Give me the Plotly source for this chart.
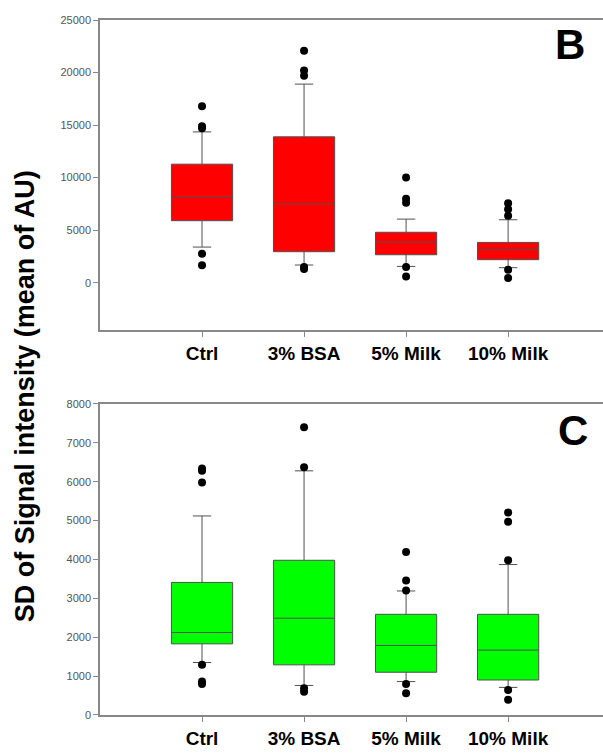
import plotly.graph_objects as go
from plotly.subplots import make_subplots

categories = ["Ctrl", "3% BSA", "5% Milk", "10% Milk"]

# Panel B: mean of AU
b_q1 = [5900, 2950, 2660, 2190]
b_median = [8200, 7500, 3870, 3140]
b_q3 = [11280, 13880, 4800, 3830]
b_lower = [3390, 1680, 1550, 1430]
b_upper = [14350, 18900, 6050, 5990]
b_out_x = ["Ctrl", "Ctrl", "Ctrl", "Ctrl", "Ctrl",
           "3% BSA", "3% BSA", "3% BSA", "3% BSA", "3% BSA",
           "5% Milk", "5% Milk", "5% Milk", "5% Milk", "5% Milk",
           "10% Milk", "10% Milk", "10% Milk", "10% Milk", "10% Milk"]
b_out_y = [16800, 14900, 14700, 2750, 1650,
           22080, 20200, 19700, 1500, 1300,
           10000, 8000, 7600, 1500, 600,
           7570, 7000, 6370, 1240, 440]

# Panel C: SD
c_q1 = [1830, 1290, 1100, 900]
c_median = [2120, 2490, 1790, 1670]
c_q3 = [3410, 3980, 2590, 2590]
c_lower = [1350, 760, 860, 710]
c_upper = [5120, 6280, 3190, 3870]
c_out_x = ["Ctrl", "Ctrl", "Ctrl", "Ctrl", "Ctrl", "Ctrl",
           "3% BSA", "3% BSA", "3% BSA", "3% BSA",
           "5% Milk", "5% Milk", "5% Milk", "5% Milk", "5% Milk",
           "10% Milk", "10% Milk", "10% Milk", "10% Milk", "10% Milk"]
c_out_y = [6340, 6280, 5980, 1290, 860, 800,
           7400, 6370, 690, 600,
           4190, 3460, 3200, 800, 560,
           5210, 4970, 3980, 640, 390]

b_ticks = [0, 5000, 10000, 15000, 20000, 25000]
c_ticks = [0, 1000, 2000, 3000, 4000, 5000, 6000, 7000, 8000]

fig = make_subplots(rows=2, cols=1, vertical_spacing=0.1066)

box_line = dict(color="#505050", width=1)
fig.add_trace(go.Box(x=categories, q1=b_q1, median=b_median, q3=b_q3,
                     lowerfence=b_lower, upperfence=b_upper,
                     fillcolor="#FF0000", line=box_line, width=0.6,
                     whiskerwidth=0.3, boxpoints=False, showlegend=False),
              row=1, col=1)
fig.add_trace(go.Scatter(x=b_out_x, y=b_out_y, mode="markers",
                         marker=dict(color="black", size=8),
                         showlegend=False), row=1, col=1)
fig.add_trace(go.Box(x=categories, q1=c_q1, median=c_median, q3=c_q3,
                     lowerfence=c_lower, upperfence=c_upper,
                     fillcolor="#00FF00", line=box_line, width=0.6,
                     whiskerwidth=0.3, boxpoints=False, showlegend=False),
              row=2, col=1)
fig.add_trace(go.Scatter(x=c_out_x, y=c_out_y, mode="markers",
                         marker=dict(color="black", size=8),
                         showlegend=False), row=2, col=1)

xcommon = dict(type="category", categoryorder="array", categoryarray=categories,
               range=[-1, 3.93], showline=True, linecolor="#888888", linewidth=1.5,
               mirror=True, ticks="outside", ticklen=5, tickcolor="#888888",
               showgrid=False, zeroline=False,
               tickfont=dict(family="Liberation Sans, Arial", size=19, color="black",
                             weight="bold"))
fig.update_xaxes(**xcommon)
ycommon = dict(showline=True, linecolor="#888888", linewidth=1.5, mirror=False,
               ticks="outside", ticklen=5, tickcolor="#888888", showgrid=False,
               zeroline=False, tickformat="d",
               tickfont=dict(family="Liberation Sans, Arial", size=11, color="#555555"))
fig.update_yaxes(**ycommon)
fig.update_layout(
    yaxis=dict(range=[-4500, 25000], tickvals=b_ticks, domain=[0.554, 1.0]),
    yaxis2=dict(range=[0, 8000], tickvals=c_ticks, domain=[0.0, 0.4475]),
)

fig.add_annotation(text="SD of Signal intensity (mean of AU)", xref="paper", yref="paper",
                   x=-0.15, y=0.458, textangle=-90, showarrow=False,
                   xanchor="center", yanchor="middle",
                   font=dict(family="Liberation Sans, Arial", size=27, color="black",
                             weight="bold"))
fig.add_annotation(text="B", xref="paper", yref="paper", x=0.935, y=0.965,
                   showarrow=False, xanchor="center", yanchor="middle",
                   font=dict(family="Liberation Sans, Arial", size=42, color="black",
                             weight="bold"))
fig.add_annotation(text="C", xref="paper", yref="paper", x=0.94, y=0.41,
                   showarrow=False, xanchor="center", yanchor="middle",
                   font=dict(family="Liberation Sans, Arial", size=42, color="black",
                             weight="bold"))

fig.update_layout(width=603, height=754,
                  margin=dict(l=100, r=0, t=20, b=39),
                  plot_bgcolor="white", paper_bgcolor="white")

fig.write_html("out.html", config={"displayModeBar": False},
               post_script="document.body.style.margin='0';document.body.style.overflow='hidden';")
